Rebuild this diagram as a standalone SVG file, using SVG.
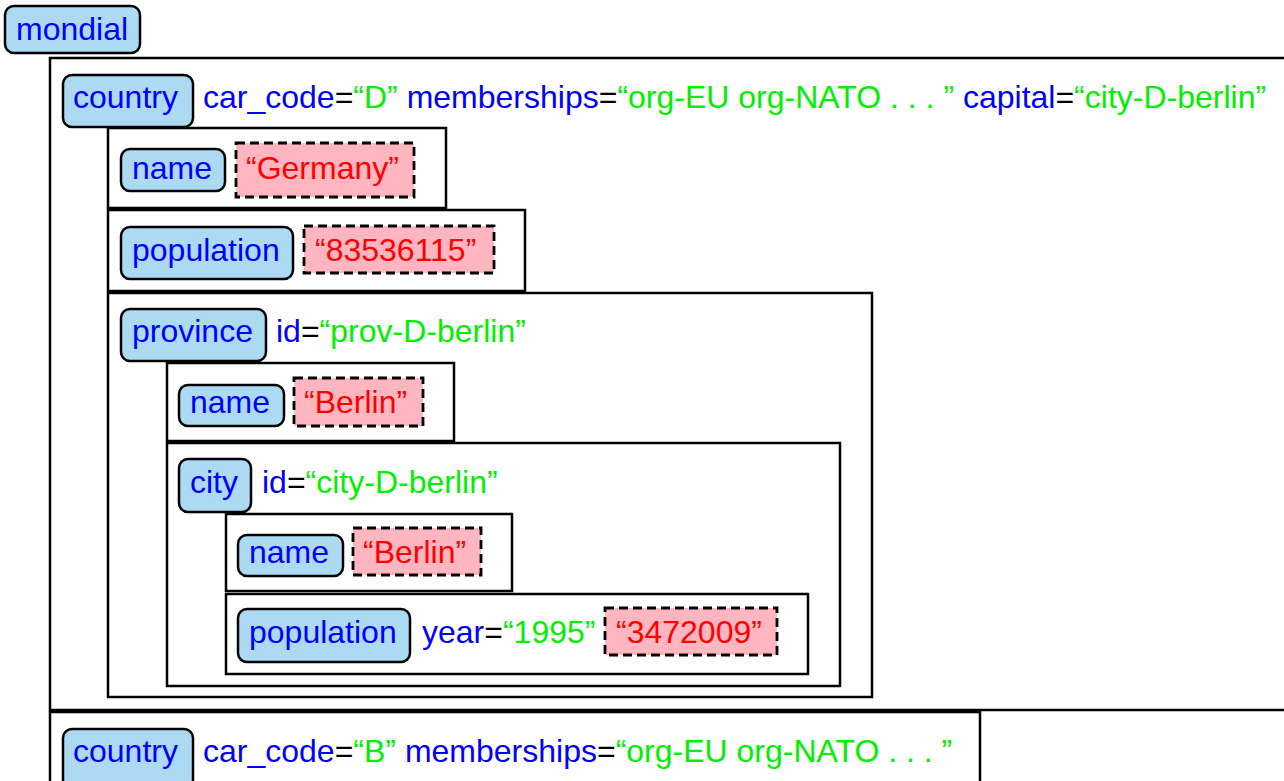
<svg xmlns="http://www.w3.org/2000/svg" width="1284" height="781" viewBox="0 0 1284 781">
<style>
text{font-family:"Liberation Sans",Arial,sans-serif;font-size:32px;white-space:pre}
.box{fill:none;stroke:#000;stroke-width:2.5}
.tag{fill:#acdaf2;stroke:#000;stroke-width:2.5}
.val{fill:#ffb6c1;stroke:#000;stroke-width:2.8;stroke-dasharray:9 5}
.b{fill:#0000ff}.g{fill:#00f000}.r{fill:#ff0000}.k{fill:#000}
</style>
<rect width="1284" height="781" fill="#fff"/>
<g id="mondial">
<rect class="tag" x="5" y="6" width="135" height="47" rx="9"/>
<text x="16" y="40" class="b">mondial</text>
</g>
<g id="country-D">
<rect class="box" x="50" y="58" width="1300" height="652"/>
<rect class="tag" x="63" y="75" width="130" height="52" rx="9"/>
<text x="73" y="108" class="b">country</text>
<text x="203" y="108"><tspan class="b">car_code</tspan><tspan class="k">=</tspan><tspan class="g">“D”</tspan><tspan class="b"> memberships</tspan><tspan class="k">=</tspan><tspan class="g">“org-EU org-NATO . . . ”</tspan><tspan class="b"> capital</tspan><tspan class="k">=</tspan><tspan class="g">“city-D-berlin”</tspan></text>
</g>
<g id="name-D">
<rect class="box" x="108" y="128" width="338" height="80"/>
<rect class="tag" x="121" y="149" width="104" height="42" rx="9"/>
<text x="132" y="178.5" class="b">name</text>
<rect class="val" x="236" y="143" width="178" height="54"/>
<text x="246" y="178.5" class="r">“Germany”</text>
</g>
<g id="population-D">
<rect class="box" x="108" y="210" width="417" height="81"/>
<rect class="tag" x="121" y="227" width="172" height="52" rx="9"/>
<text x="132" y="260.5" class="b">population</text>
<rect class="val" x="304" y="226" width="190" height="47"/>
<text x="315" y="260.5" class="r">“83536115”</text>
</g>
<g id="province">
<rect class="box" x="108" y="293" width="764" height="404"/>
<rect class="tag" x="121" y="309" width="145" height="52" rx="9"/>
<text x="132" y="342" class="b">province</text>
<text x="276" y="342"><tspan class="b">id</tspan><tspan class="k">=</tspan><tspan class="g">“prov-D-berlin”</tspan></text>
</g>
<g id="name-prov">
<rect class="box" x="167" y="363" width="287" height="78"/>
<rect class="tag" x="179" y="385" width="105" height="41" rx="9"/>
<text x="190" y="413" class="b">name</text>
<rect class="val" x="294" y="378" width="129" height="48"/>
<text x="304" y="413" class="r">“Berlin”</text>
</g>
<g id="city">
<rect class="box" x="167" y="443" width="673" height="243"/>
<rect class="tag" x="179" y="459" width="72" height="53" rx="9"/>
<text x="190" y="493" class="b">city</text>
<text x="262" y="493"><tspan class="b">id</tspan><tspan class="k">=</tspan><tspan class="g">“city-D-berlin”</tspan></text>
</g>
<g id="name-city">
<rect class="box" x="226" y="514" width="286" height="77"/>
<rect class="tag" x="238" y="535" width="105" height="41" rx="9"/>
<text x="249" y="563" class="b">name</text>
<rect class="val" x="353" y="528" width="128" height="47"/>
<text x="363" y="563" class="r">“Berlin”</text>
</g>
<g id="population-city">
<rect class="box" x="226" y="594" width="582" height="80"/>
<rect class="tag" x="238" y="609" width="172" height="53" rx="9"/>
<text x="249" y="643" class="b">population</text>
<text x="422" y="643"><tspan class="b">year</tspan><tspan class="k">=</tspan><tspan class="g">“1995”</tspan></text>
<rect class="val" x="605" y="608" width="172" height="47"/>
<text x="616" y="643" class="r">“3472009”</text>
</g>
<g id="country-B">
<rect class="box" x="50" y="712" width="930" height="100"/>
<rect class="tag" x="63" y="729" width="130" height="60" rx="9"/>
<text x="73" y="762" class="b">country</text>
<text x="203" y="762"><tspan class="b">car_code</tspan><tspan class="k">=</tspan><tspan class="g">“B”</tspan><tspan class="b"> memberships</tspan><tspan class="k">=</tspan><tspan class="g">“org-EU org-NATO . . . ”</tspan></text>
</g>
<g id="connectors"></g>
</svg>
